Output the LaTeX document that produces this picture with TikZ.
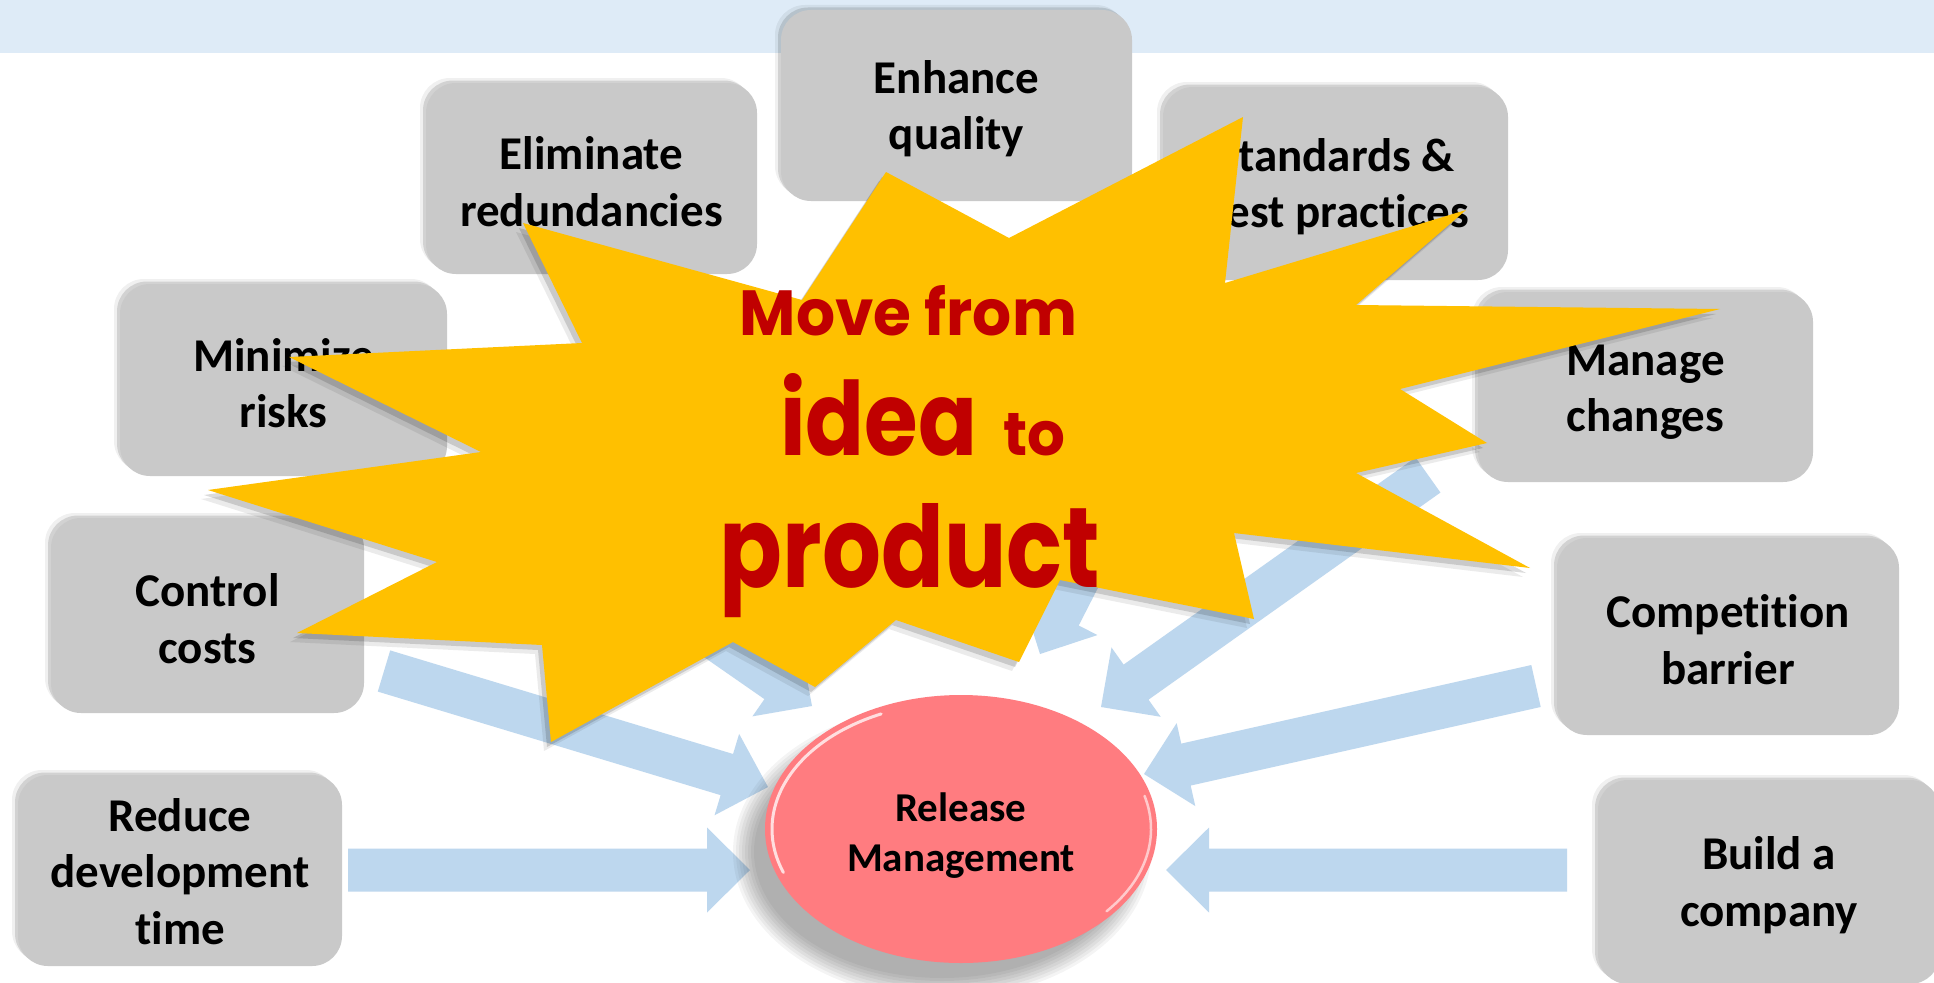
\documentclass[tikz,border=0pt]{standalone}
\usepackage{fontspec}
\usepackage{graphicx}
\setmainfont{Carlito}[Ligatures=NoCommon]
\newfontfamily\starfont{Poppins}
\usetikzlibrary{calc,shadows,shapes.geometric}
\definecolor{bandblue}{HTML}{DEEBF7}
\definecolor{boxgray}{HTML}{C9C9C9}
\definecolor{arrowblue}{HTML}{BDD7EE}
\definecolor{starfill}{HTML}{FFC000}
\definecolor{starred}{HTML}{C00000}
\definecolor{relpink}{HTML}{FF7C80}
\newcommand{\blockarrow}[2]{%
  \coordinate (tmpH) at ($(#2)!43pt!(#1)$);
  \fill[arrowblue]
    ($(#1)!21.5pt!90:(#2)$) --
    ($(tmpH)!21.5pt!90:(#2)$) --
    ($(tmpH)!42.5pt!90:(#2)$) --
    (#2) --
    ($(tmpH)!42.5pt!-90:(#2)$) --
    ($(tmpH)!21.5pt!-90:(#2)$) --
    ($(#1)!21.5pt!-90:(#2)$) -- cycle;}
\newcommand{\stardraw}[1]{%
  \fill[#1] (523,223) -- (802,300) -- (886,172) -- (1009,238) -- (1243,117)
    -- (1225,283) -- (1466,210) -- (1356,305) -- (1720,309) -- (1400,389)
    -- (1487,443) -- (1356,473) -- (1530,568) -- (1234,533) -- (1254,619)
    -- (1060,580) -- (1019,662) -- (896,620) -- (815,687) -- (733,642)
    -- (551,742) -- (542,645) -- (297,633) -- (437,562) -- (208,490)
    -- (481,452) -- (289,357) -- (582,343) -- cycle;}
\tikzset{
  goal/.style={rectangle, rounded corners=30pt, fill=boxgray, inner sep=0pt,
    general shadow={shadow xshift=-6pt, shadow yshift=5pt, fill=black, opacity=0.06},
    general shadow={shadow xshift=-3pt, shadow yshift=2.5pt, fill=black, opacity=0.12}},
  goaltext/.style={inner sep=0pt, align=center, text=black, yshift=-3pt,
    font=\fontsize{47}{56.5}\selectfont\bfseries},
  startext/.style={anchor=base, inner sep=0pt, text=starred},
}
\begin{document}
\begin{tikzpicture}[x=1pt,y=-1pt]
\useasboundingbox (0,0) rectangle (1934,982);
\fill[white] (0,0) rectangle (1934,982);
% top band
\fill[bandblue] (0,0) rectangle (1934,53);

% goal boxes
\node[goal, minimum width=351pt, minimum height=191pt] (enhance) at (956.5,105.5) {};
\node[goaltext] (enhance-t) at (enhance) {Enhance\\quality};
\node[goal, minimum width=331pt, minimum height=191pt] (elim) at (591.5,178.5) {};
\node[goaltext] (elim-t) at (elim) {Eliminate\\redundancies};
\node[goal, minimum width=345pt, minimum height=193pt] (std) at (1335.5,183.5) {};
\node[goaltext] (std-t) at (std) {Standards \&\\best practices};
\node[goal, minimum width=327pt, minimum height=192pt] (minim) at (283.5,380) {};
\node[goaltext] (minim-t) at (minim) {Minimize\\risks};
\node[goal, minimum width=335pt, minimum height=190pt] (manage) at (1645.5,387) {};
\node[goaltext, yshift=-2pt] (manage-t) at (manage) {Manage\\changes};
\node[goal, minimum width=313pt, minimum height=195pt] (control) at (207.5,615.5) {};
\node[goaltext] (control-t) at (control) {Control\\costs};
\node[goal, minimum width=342pt, minimum height=197pt] (compet) at (1728,636.5) {};
\node[goaltext] (compet-t) at (compet) {Competition\\barrier};
\node[goal, minimum width=324pt, minimum height=191pt] (reduce) at (180,870.5) {};
\node[goaltext, yshift=2pt] (reduce-t) at (reduce) {Reduce\\development\\time};
\node[goal, minimum width=342pt, minimum height=204pt] (build) at (1769,882) {};
\node[goaltext] (build-t) at (build) {Build a\\company};

% arrow end points
\coordinate (a1s) at (348,870);  \coordinate (a1e) at (750,870);
\coordinate (a2s) at (1567,870); \coordinate (a2e) at (1166,870);
\coordinate (a3s) at (384,671);  \coordinate (a3e) at (768,787);
\coordinate (a4s) at (1536,686); \coordinate (a4e) at (1144,774);
\coordinate (a5s) at (484,478);  \coordinate (a5e) at (812,706);
\coordinate (a6s) at (1225,292); \coordinate (a6e) at (1040,654);
\coordinate (a7s) at (1428,475); \coordinate (a7e) at (1101,707);
\blockarrow{a1s}{a1e}
\blockarrow{a2s}{a2e}
\blockarrow{a3s}{a3e}
\blockarrow{a4s}{a4e}
\blockarrow{a5s}{a5e}
\blockarrow{a6s}{a6e}
\blockarrow{a7s}{a7e}

% ellipse shadow
\foreach \r in {0,3,...,21}
  \fill[black, opacity=0.045] (942,852) ellipse [x radius={188+\r}, y radius={126+\r}];
% release management
\node[ellipse, fill=relpink, minimum width=392pt, minimum height=268pt, inner sep=0pt] (rm) at (961,829) {};
\node[inner sep=0pt, align=center, text=black, font=\fontsize{41}{50}\selectfont\bfseries]
  (rm-t) at (961,836) {Release\\Management};
\draw[white, opacity=0.75, line width=3pt, line cap=round]
  (961,829) ++(160:189 and 127) arc[start angle=160, end angle=245, x radius=189, y radius=127];
\draw[white, opacity=0.6, line width=2.5pt, line cap=round]
  (961,829) ++(-15:190 and 128) arc[start angle=-15, end angle=40, x radius=190, y radius=128];

% star with shadow
\stardraw{black, opacity=0.08, shift={(-7,9)}}
\stardraw{black, opacity=0.14, shift={(-4,5)}}
\stardraw{starfill}

\node[startext] (tmove) at (908.5,335) {\resizebox{337pt}{50pt}{\starfont\bfseries Move from}};
\node[startext] (tidea) at (878.5,455) {\resizebox{197pt}{82pt}{\starfont\bfseries idea}};
\node[startext] (tto) at (1034,455) {\resizebox{62pt}{42pt}{\starfont\bfseries to}};
\node[startext] (tprod) at (910,587) {\resizebox{380pt}{84pt}{\starfont\bfseries product}};
\end{tikzpicture}
\end{document}
